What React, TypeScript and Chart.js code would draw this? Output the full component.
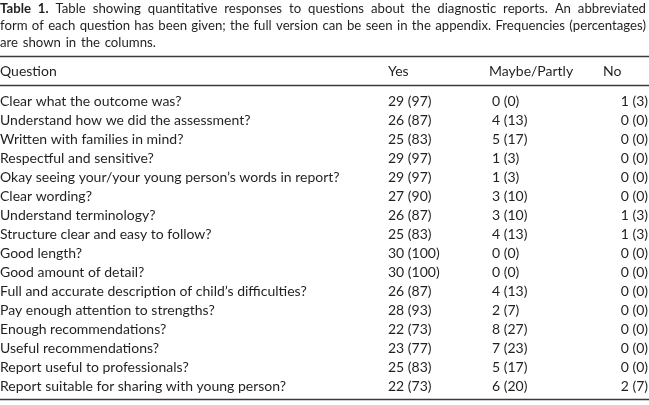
import React, { useEffect, useRef } from "react";
import { Chart, registerables } from "chart.js";

Chart.register(...registerables);

const captionLabel = "Table 1.";
const captionLines = [
  "Table showing quantitative responses to questions about the diagnostic reports. An abbreviated",
  "form of each question has been given; the full version can be seen in the appendix. Frequencies (percentages)",
  "are shown in the columns.",
];
const headers = ["Question", "Yes", "Maybe/Partly", "No"];
const questions = [
  "Clear what the outcome was?",
  "Understand how we did the assessment?",
  "Written with families in mind?",
  "Respectful and sensitive?",
  "Okay seeing your/your young person\u2019s words in report?",
  "Clear wording?",
  "Understand terminology?",
  "Structure clear and easy to follow?",
  "Good length?",
  "Good amount of detail?",
  "Full and accurate description of child\u2019s difficulties?",
  "Pay enough attention to strengths?",
  "Enough recommendations?",
  "Useful recommendations?",
  "Report useful to professionals?",
  "Report suitable for sharing with young person?",
];
const yesN = [29, 26, 25, 29, 29, 27, 26, 25, 30, 30, 26, 28, 22, 23, 25, 22];
const yesPct = [97, 87, 83, 97, 97, 90, 87, 83, 100, 100, 87, 93, 73, 77, 83, 73];
const maybeN = [0, 4, 5, 1, 1, 3, 3, 4, 0, 0, 4, 2, 8, 7, 5, 6];
const maybePct = [0, 13, 17, 3, 3, 10, 10, 13, 0, 0, 13, 7, 27, 23, 17, 20];
const noN = [1, 0, 0, 0, 0, 0, 1, 1, 0, 0, 0, 0, 0, 0, 0, 2];
const noPct = [3, 0, 0, 0, 0, 0, 3, 3, 0, 0, 0, 0, 0, 0, 0, 7];

const FONT = "14px Lato, 'Noto Sans', sans-serif";
const CAP_FONT = "13.2px Lato, 'Noto Sans', sans-serif";
const CAP_BOLD = "bold 13.2px Lato, 'Noto Sans', sans-serif";
const INK = "#231f20";

const tablePlugin = {
  id: "tableText",
  afterDraw(chart: any) {
    const ctx = chart.ctx as CanvasRenderingContext2D;
    const yScale = chart.scales.y;
    const W = chart.width;
    const rightEdge = W - 1;
    ctx.save();
    ctx.fillStyle = INK;
    ctx.textBaseline = "middle";

    // caption
    const capY = [9, 26, 43];
    captionLines.forEach((line, li) => {
      const words = line.split(" ");
      const items: { t: string; f: string }[] = [];
      if (li === 0) {
        captionLabel.split(" ").forEach((w) => items.push({ t: w, f: CAP_BOLD }));
      }
      words.forEach((w) => items.push({ t: w, f: CAP_FONT }));
      const justify = li < captionLines.length - 1;
      let sum = 0;
      items.forEach((it) => {
        ctx.font = it.f;
        sum += ctx.measureText(it.t).width;
      });
      ctx.font = CAP_FONT;
      const space = ctx.measureText(" ").width * 1.4;
      const gap = justify ? (rightEdge - 2 - sum) / (items.length - 1) : space;
      let x = 0;
      ctx.textAlign = "left";
      items.forEach((it) => {
        ctx.font = it.f;
        ctx.fillText(it.t, x, capY[li]);
        x += ctx.measureText(it.t).width + gap;
      });
    });

    // rules
    ctx.strokeStyle = "#3a3a3a";
    ctx.lineWidth = 1.5;
    const rules = [56.5, 85.5, 399.5];
    rules.forEach((ry) => {
      ctx.beginPath();
      ctx.moveTo(0, ry);
      ctx.lineTo(W, ry);
      ctx.stroke();
    });

    // header
    ctx.font = FONT;
    ctx.textAlign = "left";
    ctx.fillText(headers[0], 0, 71);
    ctx.fillText(headers[1], 388, 71);
    ctx.fillText(headers[2], 489, 71);
    ctx.fillText(headers[3], 603, 71);

    // rows
    const ds = chart.data.datasets;
    questions.forEach((q, i) => {
      const y = yScale.getPixelForValue(i);
      ctx.textAlign = "left";
      ctx.fillText(q, 0, y);
      ctx.fillText(`${ds[0].data[i]} (${yesPct[i]})`, 388, y);
      ctx.fillText(`${ds[1].data[i]} (${maybePct[i]})`, 492, y);
      ctx.textAlign = "right";
      ctx.fillText(`${ds[2].data[i]} (${noPct[i]})`, rightEdge, y);
    });
    ctx.restore();
  },
};

export default function App() {
  const ref = useRef<HTMLCanvasElement | null>(null);
  useEffect(() => {
    if (!ref.current) return;
    const chart = new Chart(ref.current, {
      type: "bar",
      data: {
        labels: questions,
        datasets: [
          { label: headers[1], data: yesN, backgroundColor: "rgba(0,0,0,0)" },
          { label: headers[2], data: maybeN, backgroundColor: "rgba(0,0,0,0)" },
          { label: headers[3], data: noN, backgroundColor: "rgba(0,0,0,0)" },
        ],
      },
      options: {
        indexAxis: "y",
        responsive: false,
        animation: false,
        devicePixelRatio: 1,
        layout: { padding: { top: 91.5, bottom: 9.5, left: 0, right: 0 } },
        scales: {
          y: { type: "category", display: false },
          x: { type: "linear", display: false, min: 0, max: 30 },
        },
        plugins: { legend: { display: false }, tooltip: { enabled: false }, title: { display: false } },
        events: [],
      },
      plugins: [tablePlugin],
    } as any);
    return () => chart.destroy();
  }, []);
  return (
    <div style={{ position: "fixed", left: 0, top: 0, width: 649, height: 405, background: "#fff" }}>
      <canvas ref={ref} width={649} height={405} style={{ width: 649, height: 405 }} />
    </div>
  );
}
